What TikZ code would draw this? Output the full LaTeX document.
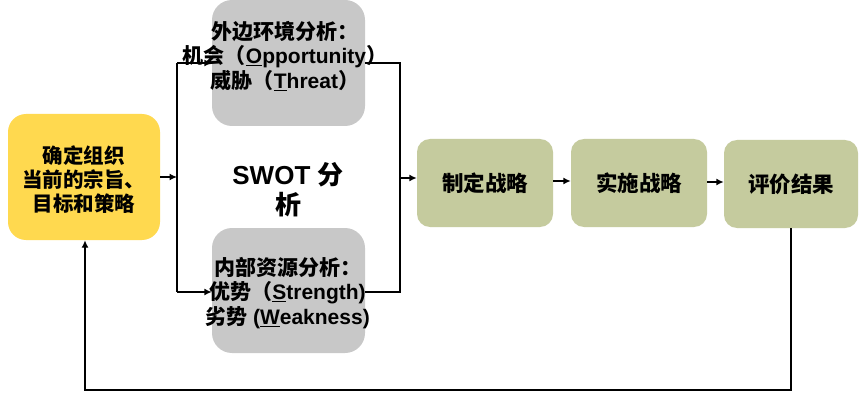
\documentclass[tikz,border=0pt]{standalone}
\usepackage{fontspec}
\setmainfont{Liberation Sans}
\newfontfamily\cjkf{Noto Sans CJK SC}
\newcommand\zhx[1]{{\cjkf #1}}
\usetikzlibrary{arrows.meta}
\definecolor{yfill}{HTML}{FFD94F}
\definecolor{gfill}{HTML}{C8C8C8}
\definecolor{ofill}{HTML}{C5CB9E}
\tikzset{
  ybox/.style={fill=yfill, rounded corners=18pt, inner sep=0pt},
  gbox/.style={fill=gfill, rounded corners=20pt, inner sep=0pt},
  obox/.style={fill=ofill, rounded corners=13pt, inner sep=0pt, font=\bfseries\fontsize{21.5}{24}\selectfont},
  lbl/.style={align=center, inner sep=0pt, font=\bfseries\fontsize{21}{24.5}\selectfont},
  conn/.style={line width=1.4pt, black},
  arr/.style={conn, -{Latex[length=7.5pt,width=7pt]}}
}
\begin{document}
\begin{tikzpicture}[x=1pt,y=-1pt]
\useasboundingbox (0,0) rectangle (865,401);
\fill[white] (0,0) rectangle (865,401);
% boxes
\node[ybox, minimum width=152pt, minimum height=126pt] (org) at (84,177) {};
\node[gbox, minimum width=153pt, minimum height=126pt] (top) at (288.5,63) {};
\node[gbox, minimum width=153pt, minimum height=125pt] (bot) at (288.5,290.5) {};
\node[obox, minimum width=136pt, minimum height=88pt] (g1) at (485,183) {\zhx{制定战略}};
\node[obox, minimum width=136pt, minimum height=88pt] (g2) at (639,183) {\zhx{实施战略}};
\node[obox, minimum width=134pt, minimum height=88pt] (g3) at (791,184) {\zhx{评价结果}};
% coordinates
\coordinate (L) at (177,177);
\coordinate (Lt) at (177,63);
\coordinate (Lb) at (177,292);
\coordinate (Rt) at (400,63);
\coordinate (Rb) at (400,292);
\coordinate (Rm) at (400,178);
\coordinate (M1) at (560,181);
\coordinate (M2) at (714,182);
\coordinate (fb1) at (791,390);
\coordinate (fb2) at (85,390);
% connectors
\draw[arr] (org.east |- L) -- (L);
\draw[conn] (Lt) -- (Lb);
\draw[arr] (Lt) -- (top.west |- Lt);
\draw[arr] (Lb) -- (bot.west |- Lb);
\draw[conn] (top.east |- Rt) -- (Rt) -- (Rb) -- (bot.east |- Rb);
\draw[arr] (Rm) -- (g1.west |- Rm);
\draw[arr] (g1.east |- M1) -- (g2.west |- M1);
\draw[arr] (g2.east |- M2) -- (g3.west |- M2);
\draw[arr] (g3.south -| fb1) -- (fb1) -- (fb2) -- (org.south -| fb2);
% texts
\node[lbl, font=\bfseries\fontsize{20.5}{24}\selectfont] (orgt) at (84,180)
  {\zhx{确定组织}\\\zhx{当前的宗旨、}\\\zhx{目标和策略}};
\node[lbl] (topt) at (285,56)
  {\zhx{外边环境分析：}\\\zhx{机会（}\underline{O}pportunity\zhx{）}\\\zhx{威胁（}\underline{T}hreat\zhx{）}};
\node[lbl] (bott) at (287.5,293)
  {\zhx{内部资源分析：}\\\zhx{优势（}\underline{S}trength)\\\zhx{劣势} (\underline{W}eakness)};
\node[lbl, font=\bfseries\fontsize{26}{30}\selectfont] (swot) at (288,190)
  {SWOT \zhx{分}\\\zhx{析}};
\end{tikzpicture}
\end{document}
